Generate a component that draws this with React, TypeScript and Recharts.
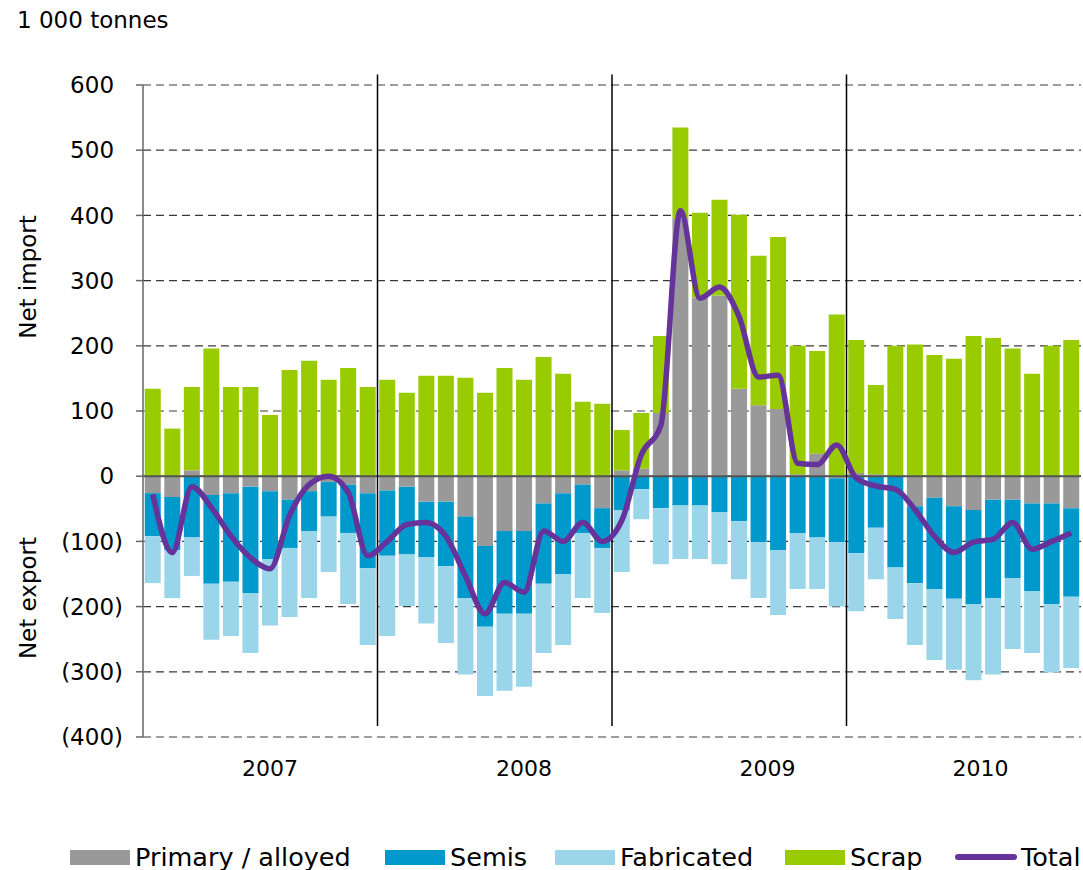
import React from 'react';
import { ComposedChart, Bar, Line, XAxis, YAxis, CartesianGrid, ReferenceLine } from 'recharts';

const years = ['2007', '2008', '2009', '2010'];
const monthNames = ['Jan', 'Feb', 'Mar', 'Apr', 'May', 'Jun', 'Jul', 'Aug', 'Sep', 'Oct', 'Nov', 'Dec'];
const months = years.flatMap((y) => monthNames.map((m) => `${m} ${y}`));
const yearTicks = ['Jul 2007', 'Aug 2008', 'Aug 2009', 'Jul 2010'];
const yearStarts = ['Jan 2008', 'Jan 2009', 'Jan 2010'];
const yTicks = [-400, -300, -200, -100, 0, 100, 200, 300, 400, 500, 600];

const primary = [
  -26, -32, 9, -29, -26, -16, -23, -36, -23, -9, -13, -26,
  -22, -16, -39, -39, -62, -107, -84, -84, -42, -26, -13, -49,
  9, 12, 97, 395, 274, 277, 134, 109, 103, 3, 35, -3,
  5, 3, 0, -46, -33, -46, -52, -36, -36, -42, -42, -49,
];
const semis = [
  -66, -81, -94, -136, -136, -163, -104, -74, -61, -53, -74, -115,
  -100, -104, -85, -99, -125, -124, -127, -127, -123, -124, -74, -61,
  -52, -20, -49, -45, -45, -55, -69, -101, -113, -87, -94, -98,
  -118, -79, -140, -118, -140, -142, -144, -151, -120, -134, -154, -136,
];
const fabricated = [
  -72, -74, -59, -86, -83, -92, -102, -106, -103, -85, -109, -118,
  -123, -79, -102, -118, -117, -106, -118, -112, -106, -109, -100, -100,
  -95, -46, -86, -82, -82, -80, -89, -86, -100, -86, -79, -99,
  -89, -79, -79, -95, -109, -109, -117, -117, -109, -95, -105, -109,
];
const scrap = [
  134, 73, 128, 196, 137, 137, 94, 163, 177, 148, 166, 137,
  148, 128, 154, 154, 151, 128, 166, 148, 183, 157, 114, 111,
  62, 85, 118, 140, 130, 147, 267, 229, 264, 197, 157, 248,
  204, 137, 200, 202, 186, 180, 215, 212, 196, 157, 200, 209,
];
const total = [
  -28, -117, -16, -48, -92, -125, -142, -60, -13, 0, -25, -122,
  -100, -74, -71, -92, -153, -211, -163, -178, -84, -100, -71, -100,
  -68, 33, 78, 407, 273, 290, 245, 152, 155, 20, 18, 48,
  -3, -15, -20, -51, -92, -117, -101, -97, -71, -112, -100, -87,
];

const data = months.map((m, i) => ({
  month: m,
  primary: primary[i],
  semis: semis[i],
  fabricated: fabricated[i],
  scrap: scrap[i],
  total: total[i],
}));

const FONT = "'DejaVu Sans', Verdana, sans-serif";
const C_PRIMARY = '#999999';
const C_SEMIS = '#0099CC';
const C_FAB = '#9BD5EA';
const C_SCRAP = '#99CC00';
const C_TOTAL = '#66339A';

const YTick = (props: any) => {
  const { x, y, payload } = props;
  const v = payload.value as number;
  const label = v < 0 ? `(${Math.abs(v)})` : `${v}`;
  return (
    <text x={x} y={y} dy="0.355em" dx={v < 0 ? 0 : '-0.39em'} textAnchor="end" fill="#000" fontSize={23} fontFamily={FONT}>
      {label}
    </text>
  );
};

// small label nudges (style only)
const yearLabelDx: Record<string, number> = { '2009': 9, '2010': 7 };

const XTick = (props: any) => {
  const { x, y, payload } = props;
  const yr = String(payload.value).slice(4);
  return (
    <text x={x + (yearLabelDx[yr] || 0)} y={y} dy="0.71em" textAnchor="middle" fill="#000" fontSize={22} fontFamily={FONT}>
      {yr}
    </text>
  );
};

const legendItems = [
  { label: 'Primary / alloyed', color: C_PRIMARY, type: 'rect', left: 70 },
  { label: 'Semis', color: C_SEMIS, type: 'rect', left: 385 },
  { label: 'Fabricated', color: C_FAB, type: 'rect', left: 555 },
  { label: 'Scrap', color: C_SCRAP, type: 'rect', left: 785 },
  { label: 'Total', color: C_TOTAL, type: 'line', left: 955 },
];

export default function App() {
  return (
    <div style={{ position: 'absolute', left: 0, top: 0, width: 1083, height: 870, fontFamily: FONT, background: '#fff' }}>
      <div style={{ position: 'absolute', left: 17, top: 9, fontSize: 23, lineHeight: '23px', color: '#000', whiteSpace: 'nowrap' }}>
        1 000 tonnes
      </div>
      <div style={{ position: 'absolute', left: 28, top: 277, fontSize: 23, lineHeight: '23px', transform: 'translate(-50%, -50%) rotate(-90deg)', whiteSpace: 'nowrap' }}>
        Net import
      </div>
      <div style={{ position: 'absolute', left: 28, top: 598, fontSize: 23, lineHeight: '23px', transform: 'translate(-50%, -50%) rotate(-90deg)', whiteSpace: 'nowrap' }}>
        Net export
      </div>
      <ComposedChart
        width={1083}
        height={870}
        data={data}
        stackOffset="sign"
        barCategoryGap="9%"
        margin={{ top: 85, right: 2, bottom: 93, left: 83 }}
      >
        <CartesianGrid horizontal vertical={false} stroke="#3a3a3a" strokeDasharray="8 5" strokeWidth={1.2} />
        <XAxis
          dataKey="month"
          type="category"
          ticks={yearTicks}
          axisLine={false}
          tickLine={false}
          tickSize={0}
          tickMargin={23}
          height={40}
          interval={0}
          tick={<XTick />}
        />
        <YAxis
          width={60}
          domain={[-400, 600]}
          ticks={yTicks}
          interval={0}
          allowDataOverflow
          axisLine={{ stroke: '#666', strokeWidth: 1.5 }}
          tickLine={{ stroke: '#666', strokeWidth: 1.5 }}
          tickSize={7}
          tickMargin={13}
          tick={<YTick />}
        />
        <Bar dataKey="primary" name="Primary / alloyed" stackId="a" fill={C_PRIMARY} isAnimationActive={false} />
        <Bar dataKey="semis" name="Semis" stackId="a" fill={C_SEMIS} isAnimationActive={false} />
        <Bar dataKey="fabricated" name="Fabricated" stackId="a" fill={C_FAB} isAnimationActive={false} />
        <Bar dataKey="scrap" name="Scrap" stackId="a" fill={C_SCRAP} isAnimationActive={false} />
        <ReferenceLine y={0} stroke="#555" strokeWidth={2} />
        {yearStarts.map((b) => (
          <ReferenceLine
            key={b}
            segment={[{ x: b, y: -383 }, { x: b, y: 616 }]}
            position="start"
            stroke="#000"
            strokeWidth={1.5}
            ifOverflow="visible"
          />
        ))}
        <Line
          type="monotone"
          dataKey="total"
          name="Total"
          stroke={C_TOTAL}
          strokeWidth={5.5}
          dot={false}
          activeDot={false}
          isAnimationActive={false}
        />
      </ComposedChart>
      {legendItems.map((it) => (
        <div
          key={it.label}
          style={{ position: 'absolute', left: it.left, top: 842, height: 30, display: 'flex', alignItems: 'center', fontSize: 25.5, color: '#000', whiteSpace: 'nowrap' }}
        >
          {it.type === 'rect' ? (
            <div style={{ width: 60, height: 15, background: it.color, marginRight: 5 }} />
          ) : (
            <div style={{ width: 62, height: 6, borderRadius: 3, background: it.color, marginRight: 4 }} />
          )}
          <span>{it.label}</span>
        </div>
      ))}
    </div>
  );
}
